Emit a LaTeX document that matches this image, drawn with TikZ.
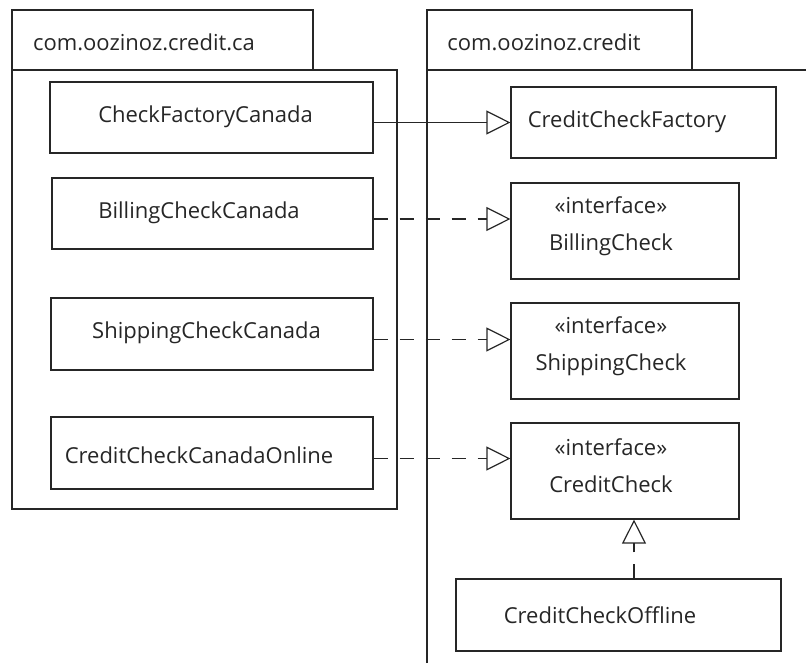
\documentclass[tikz,border=0pt]{standalone}
\usepackage{fontspec}
\setmainfont{Open Sans}
\usetikzlibrary{arrows.meta,fit}
\tikzset{
  package line/.style={line width=0.6pt,black!85},
  package name/.style={font=\fontsize{11}{13}\selectfont,text=black!85},
  class box/.style={draw=black!85,line width=0.6pt,inner sep=0pt},
  class name/.style={font=\fontsize{11}{13}\selectfont,text=black!85},
  interface name/.style={font=\fontsize{11}{18.5}\selectfont,text=black!85,align=center},
  extends line/.style={line width=0.6pt,black!85,-{Triangle[open,length=12pt,width=12pt]}},
  implements line/.style={extends line,dash pattern=on 7pt off 6pt},
}
\newcommand{\classBox}[3]{\node[class box,fit={#2 #3}] (#1) {};}

\begin{document}
\begin{tikzpicture}[x=0.5pt,y=-0.5pt]
\useasboundingbox (0,0) rectangle (806,663);
% package com.oozinoz.credit.ca
\draw[package line] (12,10) rectangle (313,70);
\draw[package line] (12,70) rectangle (397,509);
\node[package name] (pkgca) at (144,42) {com.oozinoz.credit.ca};
% package com.oozinoz.credit (runs off the page)
\draw[package line] (427,663) -- (427,10) -- (692,10) -- (692,70);
\draw[package line] (427,70) -- (806,70);
\node[package name] (pkgcredit) at (544,42) {com.oozinoz.credit};
% canadian classes
\classBox{cfc}{(50,82)}{(373,153)}
\classBox{bcc}{(52,178)}{(373,249)}
\classBox{scc}{(51,298)}{(373,370)}
\classBox{ccco}{(51,417)}{(373,489)}
\node[class name] (cfc-name) at (205.5,117) {CheckFactoryCanada};
\node[class name] (bcc-name) at (199,213) {BillingCheckCanada};
\node[class name] (scc-name) at (206.5,333) {ShippingCheckCanada};
\node[class name] (ccco-name) at (199,455) {CreditCheckCanadaOnline};
% generic classes and interfaces
\classBox{ccf}{(511,87)}{(776,158)}
\classBox{bc}{(511,183)}{(739,279)}
\classBox{sc}{(511,303)}{(739,399)}
\classBox{cc}{(511,423)}{(739,519)}
\classBox{cco}{(456,579)}{(781,651)}
\node[class name] (ccf-name) at (627,122) {CreditCheckFactory};
\node[interface name] (bc-name) at (611,226) {«interface»\\BillingCheck};
\node[interface name] (sc-name) at (611,346) {«interface»\\ShippingCheck};
\node[interface name] (cc-name) at (611,466) {«interface»\\CreditCheck};
\node[class name] (cco-name) at (600,615) {CreditCheckOffline};
% relations
\draw[extends line] (cfc.east |- ccf) -- (ccf);
\foreach \src/\dst in {bcc/bc, scc/sc, ccco/cc} {
  \draw[implements line] ([yshift=-2.75pt]\src.east) -- ([yshift=-2.75pt]\src.east -| \dst.west);
}
\draw[implements line] ([xshift=7.75pt]cco.north) -- ([xshift=7.75pt]cco.north |- cc.south);
\end{tikzpicture}
\end{document}
